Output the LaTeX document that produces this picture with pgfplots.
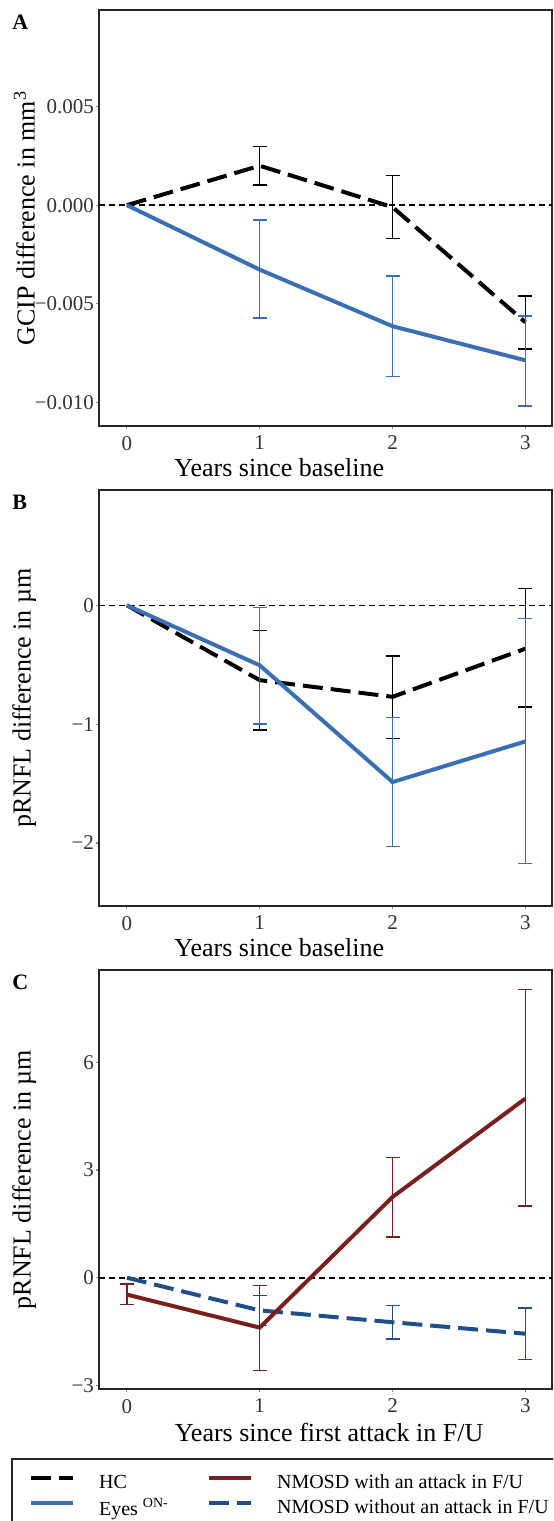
\documentclass[border=0pt]{standalone}
\usepackage{fontspec}
\setmainfont{Liberation Serif}
\usepackage{pgfplots}
\pgfplotsset{compat=1.18}

\definecolor{eyesblue}{HTML}{3B6FB4}
\definecolor{nmored}{HTML}{7B1E1E}
\definecolor{nmoblue}{HTML}{1F4E8C}

\pgfplotsset{
  panel/.style={
    scale only axis, width=226.5pt,
    xmin=-0.21, xmax=3.2, xtick={0,1,2,3},
    axis line style={black!85, line width=1pt},
    tick align=outside, tick pos=left, major tick length=1.5pt,
    tick style={black!45, line width=0.6pt},
    scaled y ticks=false,
    /pgf/number format/assume math mode=true,
    ticklabel style={font=\fontsize{10.5}{12}\selectfont, text=black!80},
    yticklabel style={xshift=2.5pt},
    label style={font=\fontsize{13}{15}\selectfont},
    ylabel style={at={(axis description cs:-0.165,0.5)}, anchor=center},
  },
  zero/.style={black, line width=0.8pt, dash pattern=on 3pt off 2pt, forget plot},
  hc/.style={black, line width=2pt, dash pattern=on 10pt off 4pt},
  eyes/.style={eyesblue, line width=2pt},
  nwith/.style={nmored, line width=2pt},
  nwithout/.style={nmoblue, line width=2pt, dash pattern=on 10pt off 4pt},
  bars/.style={forget plot, draw=none, mark=none,
    error bars/.cd, y dir=both, y explicit,
    error bar style={draw=#1, line width=0.7pt, solid},
    error mark options={draw=#1, line width=0.7pt, solid, mark size=3.5pt, rotate=90}},
}

\begin{document}
\begin{tikzpicture}
\path[use as bounding box] (0,0) rectangle (276.5pt,-760.5pt);
\clip (0,0) rectangle (276.5pt,-760.5pt);

% A: GCIP
\begin{axis}[panel, at={(49.5pt,-213pt)}, anchor=south west, height=208pt,
  ymin=-0.0112, ymax=0.0099, ytick={-0.01,-0.005,0,0.005},
  yticklabels={−0.010,−0.005,0.000,0.005},
  xlabel={Years since baseline},
  xlabel style={at={(axis description cs:0.398,0)}, anchor=base, yshift=-25pt},
  ylabel={GCIP difference in mm\textsuperscript{3}}]
\addplot[zero] coordinates {(-0.21,0) (3.2,0)};
\addplot[bars=black] coordinates {
  (1,0.0020) += (0,0.00098) -= (0,0.00098)
  (2,-0.0001) += (0,0.00162) -= (0,0.0016)
  (3,-0.00594) += (0,0.00134) -= (0,0.00135)};
\addplot[hc, forget plot] coordinates {(0,0) (1,0.0020) (2,-0.0001) (3,-0.00594)};
\addplot[bars=eyesblue] coordinates {
  (1,-0.00327) += (0,0.00251) -= (0,0.00245)
  (2,-0.00614) += (0,0.00254) -= (0,0.00254)
  (3,-0.00787) += (0,0.00224) -= (0,0.00231)};
\addplot[eyes, forget plot] coordinates {(0,0) (1,-0.00327) (2,-0.00614) (3,-0.00787)};
\end{axis}

% B: pRNFL
\begin{axis}[panel, at={(49.5pt,-453pt)}, anchor=south west, height=208pt,
  ymin=-2.53, ymax=0.97, ytick={-2,-1,0}, yticklabels={−2,−1,0},
  xlabel={Years since baseline},
  xlabel style={at={(axis description cs:0.398,0)}, anchor=base, yshift=-25pt},
  ylabel={pRNFL difference in µm}]
\addplot[zero] coordinates {(-0.21,0) (3.2,0)};
\addplot[bars=black] coordinates {
  (1,-0.63) += (0,0.417) -= (0,0.42)
  (2,-0.77) += (0,0.343) -= (0,0.35)
  (3,-0.365) += (0,0.505) -= (0,0.49)};
\addplot[hc, forget plot] coordinates {(0,0) (1,-0.63) (2,-0.77) (3,-0.365)};
\addplot[bars=eyesblue] coordinates {
  (1,-0.505) += (0,0.485) -= (0,0.495)
  (2,-1.487) += (0,0.543) -= (0,0.543)
  (3,-1.145) += (0,1.033) -= (0,1.025)};
\addplot[eyes, forget plot] coordinates {(0,0) (1,-0.505) (2,-1.487) (3,-1.145)};
\end{axis}

% C: pRNFL since first attack
\begin{axis}[panel, at={(49.5pt,-694.5pt)}, anchor=south west, height=209.5pt,
  ymin=-3.1, ymax=8.57, ytick={-3,0,3,6}, yticklabels={−3,0,3,6},
  xlabel={Years since first attack in F/U},
  xlabel style={at={(axis description cs:0.508,0)}, anchor=base, yshift=-26pt},
  ylabel={pRNFL difference in µm},
  legend columns=2, legend cell align=left,
  legend image code/.code={\draw[#1] (0pt,0.25em) -- (21pt,0.25em);},
  legend style={at={(-0.195,-0.164)}, anchor=north west, draw=black!85,
    line width=1pt, font=\fontsize{10}{12}\selectfont,
    inner xsep=8.7pt, inner ysep=6pt, row sep=-0.5pt,
    /tikz/every odd column/.append style={column sep=10pt},
    /tikz/every even column/.append style={column sep=8pt}}]
\addlegendimage{hc}
\addlegendentry{\makebox[44pt][l]{HC}}
\addlegendimage{nwith}
\addlegendentry{NMOSD with an attack in F/U}
\addlegendimage{eyes}
\addlegendentry{\makebox[44pt][l]{Eyes \textsuperscript{ON-}}}
\addlegendimage{nwithout}
\addlegendentry{NMOSD without an attack in F/U}
\addplot[zero] coordinates {(-0.21,0) (3.2,0)};
\addplot[bars=nmoblue] coordinates {
  (1,-0.91) += (0,0.42) -= (0,0.42)
  (2,-1.24) += (0,0.47) -= (0,0.47)
  (3,-1.56) += (0,0.72) -= (0,0.72)};
\addplot[nwithout, forget plot] coordinates {(0,0) (1,-0.91) (2,-1.24) (3,-1.56)};
\addplot[bars=nmored] coordinates {
  (0,-0.47) += (0,0.29) -= (0,0.28)
  (1,-1.39) += (0,1.18) -= (0,1.2)
  (2,2.25) += (0,1.1) -= (0,1.12)
  (3,4.99) += (0,3.04) -= (0,2.99)};
\addplot[nwith, forget plot] coordinates {(0,-0.47) (1,-1.39) (2,2.25) (3,4.99)};
\end{axis}

\node[anchor=north west, inner sep=0pt, font=\bfseries\fontsize{11}{13}\selectfont] at (6pt,-7.5pt) {A};
\node[anchor=north west, inner sep=0pt, font=\bfseries\fontsize{11}{13}\selectfont] at (6pt,-247.5pt) {B};
\node[anchor=north west, inner sep=0pt, font=\bfseries\fontsize{11}{13}\selectfont] at (6pt,-487.5pt) {C};
\end{tikzpicture}
\end{document}
